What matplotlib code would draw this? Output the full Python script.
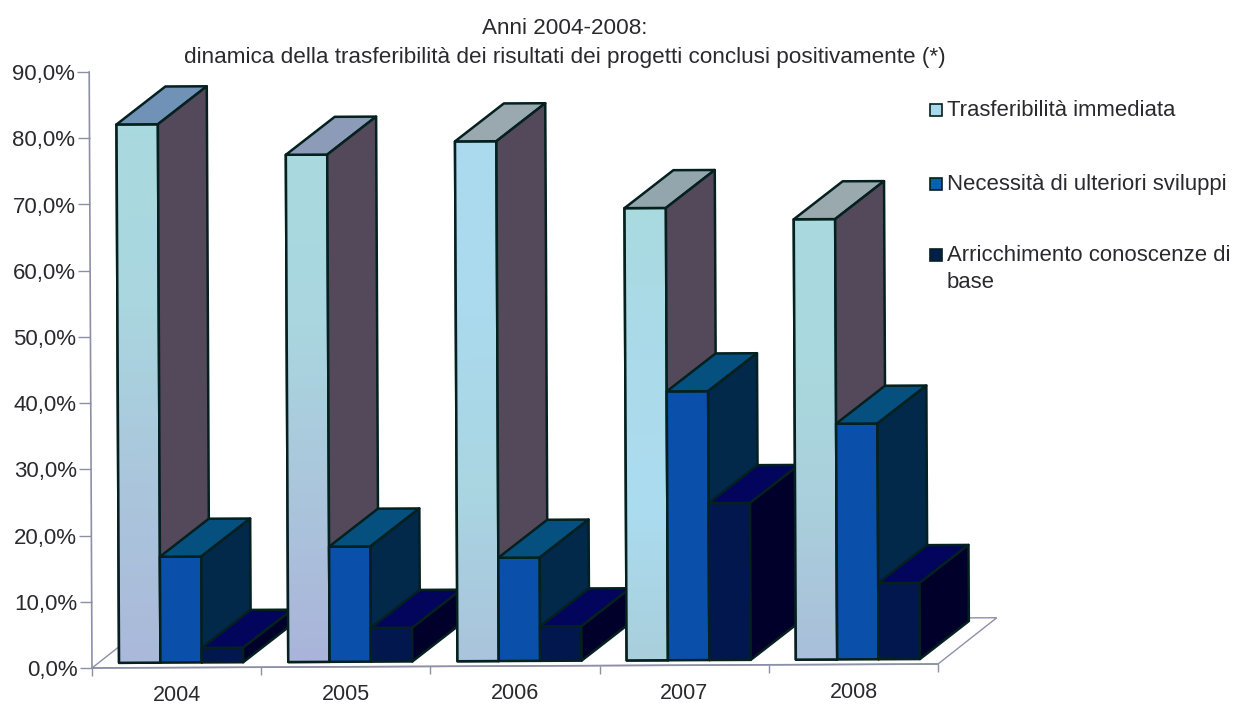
import matplotlib

matplotlib.use("Agg")
import matplotlib.pyplot as plt
from matplotlib.colors import LinearSegmentedColormap
from matplotlib.patches import Polygon, Rectangle
from matplotlib.transforms import Affine2D
import numpy as np

years = ["2004", "2005", "2006", "2007", "2008"]
series_names = [
    "Trasferibilità immediata",
    "Necessità di ulteriori sviluppi",
    "Arricchimento conoscenze di\nbase",
]
immediata = [81.3, 76.6, 78.5, 68.3, 66.5]
sviluppi = [16.0, 17.4, 15.6, 40.6, 35.6]
arricchimento = [2.2, 5.1, 5.2, 23.7, 11.5]
y_ticks = [0, 10, 20, 30, 40, 50, 60, 70, 80, 90]
y_labels = [f"{v},0%" for v in y_ticks]
title_lines = [
    "Anni 2004-2008:",
    "dinamica della trasferibilità dei risultati dei progetti conclusi positivamente (*)",
]

plt.rcParams["font.family"] = ["Liberation Sans", "DejaVu Sans"]
TEXT = "#2a2a2e"
AXIS = "#8d8fa6"
EDGE = "#04201f"
FRONT = ["#a9d9de", "#0a4fa9", "#03174f"]
SIDE = ["#54495a", "#02284a", "#00002a"]
TOP = ["#7d96b4", "#06507f", "#03045c"]
FIRST_TOP = ["#6f92b6", "#8c9cb8", "#9aa9b0", "#93a5ad", "#9aa9ad"]
FIRST_GRADIENT = [
    ["#aab9da", "#abc6dc", "#a9d6df", "#a9dae0"],
    ["#aab4da", "#abc6dc", "#a9d6df", "#a9dae0"],
    ["#a9c4dc", "#aad6e2", "#abdaee", "#abdaf0"],
    ["#a9cfdc", "#abdcf0", "#abdaea", "#a9dae0"],
    ["#aabfda", "#a9cfdc", "#a9d8de", "#a9dae0"],
]
LEGEND_FILL = ["#a8d8ee", "#0661ae", "#04204a"]

W, H = 1234, 704
fig = plt.figure(figsize=(W / 100, H / 100), dpi=100)
ax = fig.add_axes([92 / W, 1 - 668 / H, 846 / W, 596 / H])
ax.patch.set_visible(False)
for spine in ax.spines.values():
    spine.set_visible(False)
ax.set_xlim(0, 5)
ax.set_ylim(0, 90)

# the scan is slightly rotated
pivot = ax.transData.transform((0, 0))
rotation = Affine2D().rotate_deg_around(pivot[0], pivot[1], 0.27)
tilt = ax.transData + rotation

bar_w = 0.2445
bar_start = 0.16
depth_x = 0.29
depth_y = 5.7
floor = 0.76


def add_face(points, color, z):
    ax.add_patch(
        Polygon(points, closed=True, facecolor=color, edgecolor=EDGE, linewidth=1.8,
                joinstyle="round", transform=tilt, zorder=z, clip_on=False)
    )


# floor of the 3d box
floor_x = 59 / (846 / 5)
floor_y = 46 / (596 / 90)
ax.add_patch(
    Polygon([(0, 0), (5, 0), (5 + floor_x, floor_y), (floor_x, floor_y)], closed=True,
            facecolor="white", edgecolor=AXIS, linewidth=1.0, transform=tilt, zorder=1,
            clip_on=False)
)

z = 2
for i in range(len(years)):
    values = [immediata[i], sviluppi[i], arricchimento[i]]
    for k, value in enumerate(values):
        x0 = i + bar_start + k * bar_w
        x1 = x0 + bar_w
        y0 = floor
        y1 = floor + value
        add_face([(x0, y0), (x1, y0), (x1, y1), (x0, y1)], FRONT[k], z)
        if k == 0:
            ax.imshow(
                np.linspace(0, 1, 64).reshape(-1, 1),
                cmap=LinearSegmentedColormap.from_list(f"scan{i}", FIRST_GRADIENT[i]),
                aspect="auto", origin="lower", extent=(x0, x1, y0, y1), transform=tilt,
                zorder=z + 0.1, interpolation="bilinear", clip_on=False,
            )
            add_face([(x0, y0), (x1, y0), (x1, y1), (x0, y1)], "none", z + 0.2)
        top_color = FIRST_TOP[i] if k == 0 else TOP[k]
        add_face([(x0, y1), (x1, y1), (x1 + depth_x, y1 + depth_y), (x0 + depth_x, y1 + depth_y)],
                 top_color, z + 0.3)
        add_face([(x1, y0), (x1 + depth_x, y0 + depth_y), (x1 + depth_x, y1 + depth_y), (x1, y1)],
                 SIDE[k], z + 0.3)
        z += 1
ax.set_xlim(0, 5)
ax.set_ylim(0, 90)

# axis lines
ax.plot([0, 0], [0, 90], color=AXIS, lw=1.2, transform=tilt, clip_on=False, zorder=1.5)
ax.plot([0, 5], [0, 0], color=AXIS, lw=1.2, transform=tilt, clip_on=False, zorder=1.5)

ax.set_yticks(y_ticks)
ax.set_yticklabels(y_labels, fontsize=16, color=TEXT)
ax.set_xticks(np.arange(5) + 0.5)
ax.set_xticklabels(years, fontsize=15.5, color=TEXT)
ax.set_xticks(np.arange(6), minor=True)
ax.tick_params(axis="y", length=8.6, width=1.0, color=AXIS, pad=1.5)
ax.tick_params(axis="x", which="major", length=0, pad=12.5)
ax.tick_params(axis="x", which="minor", length=6, width=1.0, color=AXIS)
for axis in (ax.xaxis, ax.yaxis):
    for tick in axis.get_major_ticks() + axis.get_minor_ticks():
        tick.tick1line.set_transform(tick.tick1line.get_transform() + rotation)
        tick.label1.set_transform(tick.label1.get_transform() + rotation)

fig.text(565 / W, 1 - 29 / H, title_lines[0], ha="center", va="center", fontsize=16.2, color=TEXT)
fig.text(565 / W, 1 - 58 / H, title_lines[1], ha="center", va="center", fontsize=16.2, color=TEXT)

# legend
legend_rows = [110, 184, 255]
for name, row, fill in zip(series_names, legend_rows, LEGEND_FILL):
    fig.add_artist(
        Rectangle((930 / W, 1 - (row + 6) / H), 12 / W, 12 / H, facecolor=fill, edgecolor=EDGE,
                  linewidth=1.2, transform=fig.transFigure)
    )
    fig.text(947 / W, 1 - (row - 10) / H, name, ha="left", va="top", fontsize=15.9, color=TEXT,
             linespacing=1.37)

fig.savefig("out.png", dpi=100)
plt.close(fig)
